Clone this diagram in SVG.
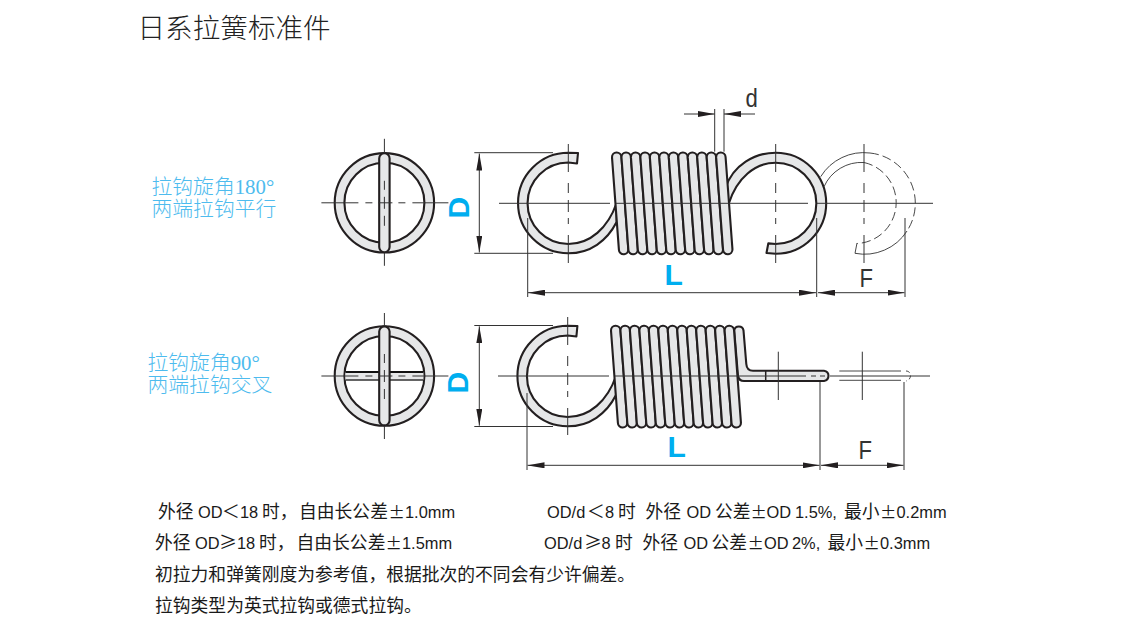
<svg xmlns="http://www.w3.org/2000/svg" xmlns:xlink="http://www.w3.org/1999/xlink" width="1146" height="632" viewBox="0 0 1146 632">
<style>
.band{fill:#e6e7e8;stroke:#231f20;stroke-width:2.1;stroke-linejoin:round}
.cl{fill:none;stroke:#333;stroke-width:1}
.dim{fill:none;stroke:#333;stroke-width:1}
.ph{fill:none;stroke:#333;stroke-width:.9}
.phd{fill:none;stroke:#333;stroke-width:.9;stroke-dasharray:9 4}
.cjk{font-family:"Noto Sans CJK SC","Liberation Sans",sans-serif}
.title{font-size:27.6px;fill:#222;font-weight:300}
.note{font-family:"Liberation Sans","Noto Sans CJK SC",sans-serif;font-size:16.4px;fill:#1a1a1a}
.c{font-family:"Noto Sans CJK SC",sans-serif;font-size:17.8px}
.pm{font-family:"Noto Sans CJK SC",sans-serif;font-size:16.4px}
.blue{font-family:"Liberation Serif","Noto Sans CJK SC",serif;font-size:20.8px;fill:#4dbbee;font-weight:300}
.key{font-family:"Liberation Sans",sans-serif;font-weight:700;font-size:30px;fill:#00aeef}
.sym{font-family:"Liberation Sans",sans-serif;font-size:26px;fill:#333}
</style>
<defs>
<marker id="ah" markerUnits="userSpaceOnUse" viewBox="0 0 17 6" refX="17" refY="3" markerWidth="17" markerHeight="6" orient="auto-start-reverse"><path d="M0,0 L17,3 L0,6 Z" fill="#231f20"/></marker>
<path id="coil" class="band" d="M0,4.7 A4.7,4.7 0 0 1 9.4,4.3 L16.3,96.7 A4.7,4.7 0 0 1 6.9,97 Z"/>
<g id="end">
<path class="band" fill-rule="evenodd" d="M-49.7,0 A49.7,49.7 0 1 1 49.7,0 A49.7,49.7 0 1 1 -49.7,0 Z M-40,0 A40,40 0 1 0 40,0 A40,40 0 1 0 -40,0 Z"/>
</g>
<path id="hookL" class="band" d="M578,153 L568.3,152.7 A50,50 0 0 0 568.3,253.3 C590,253.3 607,241 616.6,222 L616.6,203 C608,228 590,244 568.3,244 A40,40 0 0 1 568.3,162.5 L577,163.5 Z"/>
</defs>
<rect width="1146" height="632" fill="#fff"/>

<g id="title"><text class="cjk title" x="137.5" y="38">日系拉簧标准件</text></g>

<g id="label-180"><text class="blue" x="151.5" y="194">拉钩旋角180°</text><text class="blue" x="151.5" y="215.5">两端拉钩平行</text></g>
<g id="label-90"><text class="blue" x="147.5" y="370">拉钩旋角90°</text><text class="blue" x="147.5" y="392">两端拉钩交叉</text></g>

<g id="end-view-180" transform="translate(384.4 202.8)">
<use xlink:href="#end" href="#end"/>
<rect class="band" x="-5.2" y="-49.6" width="10.4" height="99" rx="5.2"/>
<path class="cl" d="M-63,0H-26M-19,0H-12M-6,0H8M14,0H21M28,0H64M0,-64V-50M0,-22V-13M0,-6V6M0,13V23M0,50V63"/>
</g>

<g id="spring-180">
<use xlink:href="#hookL" href="#hookL"/>
<path class="band" d="M725.5,188 C733,165 755,152.7 775.7,152.7 A50,50 0 0 1 775.7,253.7 L766.5,253 L768.3,243.4 L775.7,244 A40,40 0 0 0 775.7,162.7 C755,162.7 737,178 729,203 Z"/>
<g id="coils-180">
<use href="#coil" x="612" y="152.7"/><use href="#coil" x="621.47" y="152.7"/><use href="#coil" x="630.94" y="152.7"/><use href="#coil" x="640.41" y="152.7"/><use href="#coil" x="649.88" y="152.7"/><use href="#coil" x="659.35" y="152.7"/><use href="#coil" x="668.82" y="152.7"/><use href="#coil" x="678.29" y="152.7"/><use href="#coil" x="687.76" y="152.7"/><use href="#coil" x="697.23" y="152.7"/><use href="#coil" x="706.7" y="152.7"/><use href="#coil" x="716.17" y="152.7"/>
</g>
<path class="cl" d="M499,203.3H610M616,203.3H808M817,203.3H933M568.3,144V172M568.3,183V193M568.3,200V212M568.3,218V224M568.3,235V263M775.7,144V172M775.7,183V193M775.7,200V212M775.7,218V224M775.7,235V263M864,144V172M864,183V193M864,200V212M864,218V224M864,235V263"/>
</g>

<g id="phantom-180">
<path class="ph" d="M820.7,176.7 A50.5,50.5 0 0 1 870,153"/>
<path class="phd" d="M870,153 A50.5,50.5 0 0 1 907,231"/>
<path class="ph" d="M907,231 A50.5,50.5 0 0 1 855,253.3 L857,243"/>
<path class="ph" d="M824,186.7 A41,41 0 0 1 864,162.5"/>
<path class="phd" d="M864,162.5 A41,41 0 0 1 857,243.5"/>
</g>

<g id="end-view-90" transform="translate(384.4 376)">
<use href="#end"/>
<path d="M-39,-4H-5V4H-39ZM5,-4H39V4H5Z" fill="#e6e7e8"/>
<path d="M-39,-4H-5M5,-4H39" fill="none" stroke="#111" stroke-width="2.2"/>
<path d="M-39,4H-5M5,4H39" fill="none" stroke="#333" stroke-width="1.4"/>
<rect class="band" x="-5.2" y="-49.6" width="10.4" height="99" rx="5.2"/>
<path class="cl" d="M-63,0H-26M-19,0H-12M-6,0H8M14,0H21M28,0H64M0,-63V-50M0,-22V-13M0,-6V6M0,13V23M0,50V63"/>
</g>

<g id="spring-90">
<use href="#hookL" transform="translate(-.6 173)"/>
<path class="band" d="M734.2,330.5 A4.7,4.7 0 0 1 743.5,330.5 L746.3,364 Q746.8,370.7 753,370.7 L824,370.7 A5.2,5.2 0 0 1 824,381 L744,381 Q739,381 738,376 Z"/>
<g id="coils-90">
<use href="#coil" x="611" y="326"/><use href="#coil" x="620.47" y="326"/><use href="#coil" x="629.94" y="326"/><use href="#coil" x="639.41" y="326"/><use href="#coil" x="648.88" y="326"/><use href="#coil" x="658.35" y="326"/><use href="#coil" x="667.82" y="326"/><use href="#coil" x="677.29" y="326"/><use href="#coil" x="686.76" y="326"/><use href="#coil" x="696.23" y="326"/><use href="#coil" x="705.7" y="326"/><use href="#coil" x="715.17" y="326"/><use href="#coil" x="724.64" y="326"/>
</g>
<path d="M765.7,371V381" stroke="#231f20" stroke-width="1.5"/>
<path class="cl" d="M498,376H609M615,376H806M811,376H816M820,376H825M830,376H930M567.7,317V345M567.7,356V366M567.7,373V385M567.7,391V397M567.7,408V435M778.3,351.7V400M862.3,351.7V400"/>
</g>

<g id="phantom-90">
<path class="ph" d="M839.3,371H901M839.3,380.3H901"/>
<path class="ph" stroke-dasharray="4 3" d="M906,371 C912,371 912,380 906,381"/>
</g>

<g id="connectors">
<path class="dim" d="M474.3,152.7H553M474.3,253.3H553M474.3,325.5H553M474.3,426.5H553"/>
<path class="dim" d="M527.7,218V297M816.7,218V297M905,218V297M527,393V470M820,382V470M904,382V470M714.7,109V151.7M724,109V151.7"/>
<line class="dim" x1="479.3" y1="153.5" x2="479.3" y2="252.5" marker-start="url(#ah)" marker-end="url(#ah)"/>
<line class="dim" x1="479.3" y1="326.3" x2="479.3" y2="425.7" marker-start="url(#ah)" marker-end="url(#ah)"/>
<line class="dim" x1="528" y1="292.7" x2="816" y2="292.7" marker-start="url(#ah)" marker-end="url(#ah)"/>
<line class="dim" x1="818" y1="292.7" x2="904.5" y2="292.7" marker-start="url(#ah)" marker-end="url(#ah)"/>
<line class="dim" x1="527.5" y1="465.3" x2="819.5" y2="465.3" marker-start="url(#ah)" marker-end="url(#ah)"/>
<line class="dim" x1="821" y1="465.3" x2="903.5" y2="465.3" marker-start="url(#ah)" marker-end="url(#ah)"/>
<line class="dim" x1="684" y1="114" x2="714.7" y2="114" marker-end="url(#ah)"/>
<line class="dim" x1="755" y1="114" x2="724" y2="114" marker-end="url(#ah)"/>
</g>

<g id="dimension-labels">
<text class="key" transform="translate(469 218.5) rotate(-90)">D</text>
<text class="key" transform="translate(468 393.5) rotate(-90)">D</text>
<text class="key" x="664.5" y="285">L</text>
<text class="key" x="667.5" y="457">L</text>
<text class="sym" transform="translate(859.5 287) scale(.85 1.02)">F</text>
<text class="sym" transform="translate(858.5 459) scale(.85 1.02)">F</text>
<text class="sym" transform="translate(745.5 107) scale(.85 1.02)">d</text>
</g>

<g id="notes">
<text class="note" y="518"><tspan class="c" x="158">外径</tspan><tspan x="198">OD</tspan><tspan class="c" x="222">＜</tspan><tspan x="240">18</tspan><tspan class="c" x="262">时，</tspan><tspan class="c" x="299">自由长公差</tspan><tspan class="pm" x="388.5">±</tspan><tspan x="405">1.0mm</tspan></text>
<text class="note" y="549"><tspan class="c" x="155">外径</tspan><tspan x="195">OD</tspan><tspan class="c" x="219">≥</tspan><tspan x="237">18</tspan><tspan class="c" x="259">时，</tspan><tspan class="c" x="296.5">自由长公差</tspan><tspan class="pm" x="385.5">±</tspan><tspan x="402">1.5mm</tspan></text>
<text class="note" y="581"><tspan class="c" x="155">初拉力和弹簧刚度为参考值，根据批次的不同会有少许偏差。</tspan></text>
<text class="note" y="612"><tspan class="c" x="155">拉钩类型为英式拉钩或德式拉钩。</tspan></text>
<text class="note" y="518"><tspan x="547">OD/d</tspan><tspan class="c" x="587">＜</tspan><tspan x="605">8</tspan><tspan class="c" x="618">时</tspan><tspan class="c" x="645.5">外径</tspan><tspan x="686.5">OD</tspan><tspan class="c" x="715">公差</tspan><tspan class="pm" x="750.5">±</tspan><tspan x="766.5">OD</tspan><tspan x="795">1.5%,</tspan><tspan class="c" x="844">最小</tspan><tspan class="pm" x="880">±</tspan><tspan x="896.5">0.2mm</tspan></text>
<text class="note" y="549"><tspan x="544">OD/d</tspan><tspan class="c" x="584">≥</tspan><tspan x="601.5">8</tspan><tspan class="c" x="615">时</tspan><tspan class="c" x="642.5">外径</tspan><tspan x="683.5">OD</tspan><tspan class="c" x="711.5">公差</tspan><tspan class="pm" x="747.5">±</tspan><tspan x="764">OD</tspan><tspan x="792">2%,</tspan><tspan class="c" x="827.5">最小</tspan><tspan class="pm" x="863.5">±</tspan><tspan x="880">0.3mm</tspan></text>
</g>
</svg>
